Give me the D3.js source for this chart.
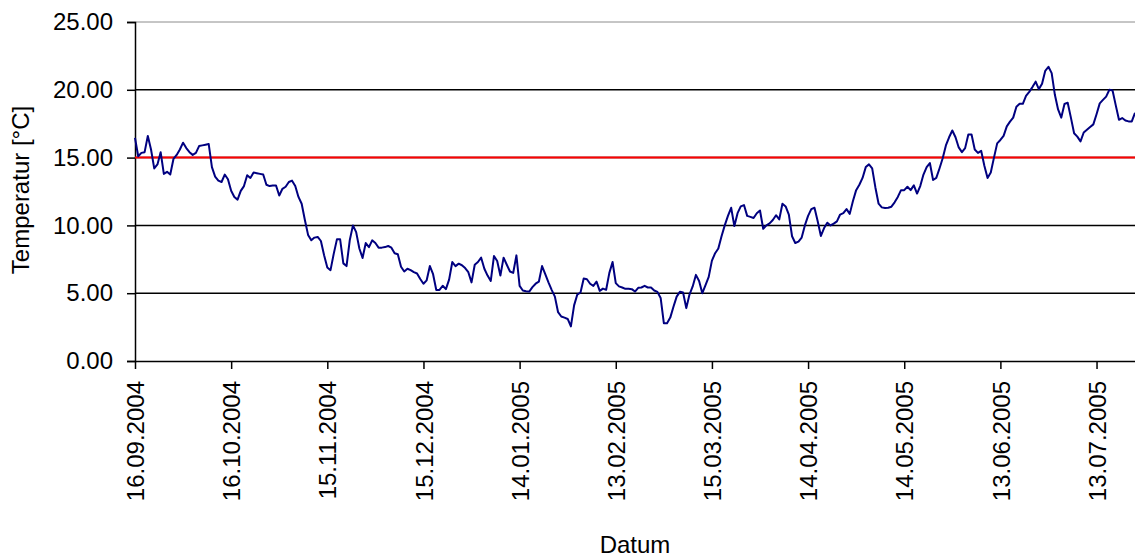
<!DOCTYPE html>
<html>
<head>
<meta charset="utf-8">
<script src="https://cdn.jsdelivr.net/npm/d3@7"></script>
<style>
  html, body { margin: 0; padding: 0; background: #fff; }
  svg { display: block; font-family: "Liberation Sans", Arial, sans-serif; }
</style>
</head>
<body>
<svg id="chart" width="1135" height="559"></svg>
<script>
// Daily water temperature, first value on 16.09.2004
const startDate = [2004, 8, 16];
const temperatures = [
  16.45, 15.1, 15.35, 15.4, 16.6, 15.6, 14.2, 14.5, 15.4, 13.8,
  13.95, 13.75, 14.9, 15.2, 15.6, 16.1, 15.7, 15.4, 15.2, 15.35,
  15.85, 15.9, 15.95, 16.0, 14.3, 13.6, 13.3, 13.2, 13.75, 13.4,
  12.55, 12.1, 11.9, 12.55, 12.9, 13.7, 13.5, 13.9, 13.85, 13.8,
  13.75, 13.0, 12.9, 12.94, 12.94, 12.2, 12.7, 12.85, 13.2, 13.3,
  12.9, 12.1, 11.6, 10.4, 9.3, 8.9, 9.1, 9.15, 8.85, 7.8,
  6.9, 6.7, 7.9, 8.97, 8.97, 7.2, 7.0, 8.9, 10.0, 9.5,
  8.3, 7.6, 8.7, 8.4, 8.9, 8.7, 8.36, 8.36, 8.4, 8.48,
  8.36, 7.95, 7.87, 6.95, 6.6, 6.8, 6.7, 6.55, 6.45, 6.05,
  5.7, 5.95, 7.0, 6.4, 5.24, 5.24, 5.55, 5.3, 6.0, 7.3,
  7.0, 7.18, 7.06, 6.85, 6.55, 5.8, 7.1, 7.3, 7.62, 6.8,
  6.3, 5.9, 7.74, 7.37, 6.3, 7.62, 7.1, 6.6, 6.5, 7.79,
  5.54, 5.2, 5.15, 5.12, 5.45, 5.7, 5.85, 7.0, 6.4, 5.8,
  5.25, 4.75, 3.6, 3.28, 3.2, 3.1, 2.55, 4.1, 4.9, 5.05,
  6.08, 6.03, 5.7, 5.54, 5.85, 5.17, 5.34, 5.25, 6.5, 7.3,
  5.74, 5.5, 5.42, 5.32, 5.32, 5.3, 5.12, 5.4, 5.42, 5.54,
  5.42, 5.42, 5.2, 5.1, 4.65, 2.79, 2.79, 3.2, 4.0, 4.75,
  5.1, 5.05, 3.9, 4.9, 5.5, 6.35, 5.9, 5.0, 5.6, 6.2,
  7.4, 7.95, 8.3, 9.2, 10.0, 10.7, 11.3, 9.95, 10.9, 11.4,
  11.5, 10.7, 10.63, 10.55, 10.9, 11.1, 9.75, 10.0, 10.15, 10.4,
  10.75, 10.44, 11.6, 11.4, 10.8, 9.2, 8.7, 8.8, 9.1, 10.0,
  10.7, 11.2, 11.3, 10.3, 9.22, 9.8, 10.2, 10.0, 10.13, 10.3,
  10.8, 10.9, 11.2, 10.85, 11.8, 12.6, 13.0, 13.5, 14.3, 14.5,
  14.2, 12.8, 11.6, 11.33, 11.28, 11.3, 11.38, 11.7, 12.1, 12.6,
  12.6, 12.85, 12.6, 12.95, 12.35, 12.9, 13.75, 14.3, 14.6, 13.35,
  13.5, 14.2, 14.95, 15.9, 16.5, 17.0, 16.5, 15.75, 15.4, 15.7,
  16.7, 16.7, 15.6, 15.35, 15.5, 14.4, 13.5, 13.9, 15.0, 16.05,
  16.3, 16.6, 17.3, 17.65, 17.95, 18.75, 18.97, 18.97, 19.55, 19.85,
  20.2, 20.6, 20.05, 20.45, 21.4, 21.7, 21.23, 19.63, 18.55, 17.95,
  18.95, 19.05, 17.95, 16.8, 16.55, 16.2, 16.85, 17.05, 17.25, 17.45,
  18.2, 19.0, 19.26, 19.5, 20.0, 19.95, 18.85, 17.79, 17.92, 17.74,
  17.67, 17.67, 18.3
];

// Reference level drawn in red
const limitValue = 15;

// Axis labelling
const xTickLabels = ["16.09.2004", "16.10.2004", "15.11.2004", "15.12.2004", "14.01.2005",
  "13.02.2005", "15.03.2005", "14.04.2005", "14.05.2005", "13.06.2005", "13.07.2005"];
const yTickValues = [0, 5, 10, 15, 20, 25];
const xTitle = "Datum";
const yTitle = "Temperatur [°C]";

const parseDay = d3.utcParse("%d.%m.%Y");
const fmtY = d3.format(".2f");

const dates = temperatures.map((_, i) => new Date(Date.UTC(startDate[0], startDate[1], startDate[2] + i)));
const series = temperatures.map((v, i) => ({ date: dates[i], value: v }));

const svg = d3.select("#chart");
const plot = { left: 135, right: 1135, top: 22, bottom: 361 };

const x = d3.scaleUtc()
  .domain([dates[0], dates[dates.length - 1]])
  .range([plot.left, plot.right]);
const y = d3.scaleLinear()
  .domain([0, 25])
  .range([plot.bottom, plot.top]);

// Horizontal gridlines
svg.append("g")
  .selectAll("line")
  .data(yTickValues.filter(v => v > 0))
  .join("line")
  .attr("x1", plot.left).attr("x2", plot.right)
  .attr("y1", d => y(d)).attr("y2", d => y(d))
  .attr("stroke", d => d === 25 ? "#8c8c8c" : "#000")
  .attr("stroke-width", d => d === 25 ? 1 : 1.5);

// Y axis
const yAxis = svg.append("g")
  .attr("transform", `translate(${plot.left},0)`)
  .call(d3.axisLeft(y).tickValues(yTickValues).tickFormat(fmtY).tickSize(8).tickPadding(14));
yAxis.select(".domain").attr("stroke", "#000").attr("stroke-width", 1.5);
yAxis.selectAll(".tick line").attr("stroke", "#000").attr("stroke-width", 1.5);
yAxis.selectAll(".tick text")
  .attr("font-size", 24).attr("fill", "#000")
  .style("font-family", "'Liberation Sans', Arial, sans-serif");

// X axis
const xAxis = svg.append("g")
  .attr("transform", `translate(0,${plot.bottom})`)
  .call(d3.axisBottom(x)
    .tickValues(xTickLabels.map(parseDay))
    .tickFormat(d3.utcFormat("%d.%m.%Y"))
    .tickSize(8).tickSizeOuter(0));
xAxis.select(".domain").attr("stroke", "#000").attr("stroke-width", 1.5);
xAxis.selectAll(".tick line").attr("stroke", "#000").attr("stroke-width", 1.5);
xAxis.selectAll(".tick text")
  .attr("font-size", 24).attr("fill", "#000")
  .style("font-family", "'Liberation Sans', Arial, sans-serif")
  .attr("text-anchor", "end")
  .attr("transform", "rotate(-90)")
  .attr("x", -20).attr("y", 0).attr("dy", "0.36em");

// Reference line at 15 °C
svg.append("line")
  .attr("x1", plot.left).attr("x2", plot.right)
  .attr("y1", y(limitValue)).attr("y2", y(limitValue))
  .attr("stroke", "#ff0000").attr("stroke-width", 2);

// Temperature curve
svg.append("path")
  .datum(series)
  .attr("fill", "none")
  .attr("stroke", "#000080")
  .attr("stroke-width", 2)
  .attr("stroke-linejoin", "round")
  .attr("d", d3.line().x(d => x(d.date)).y(d => y(d.value)));

// Axis titles
svg.append("text")
  .attr("x", 635).attr("y", 553)
  .attr("text-anchor", "middle")
  .attr("font-size", 24)
  .text(xTitle);
svg.append("text")
  .attr("transform", "translate(29,190) rotate(-90)")
  .attr("text-anchor", "middle")
  .attr("font-size", 24)
  .text(yTitle);
</script>
</body>
</html>
